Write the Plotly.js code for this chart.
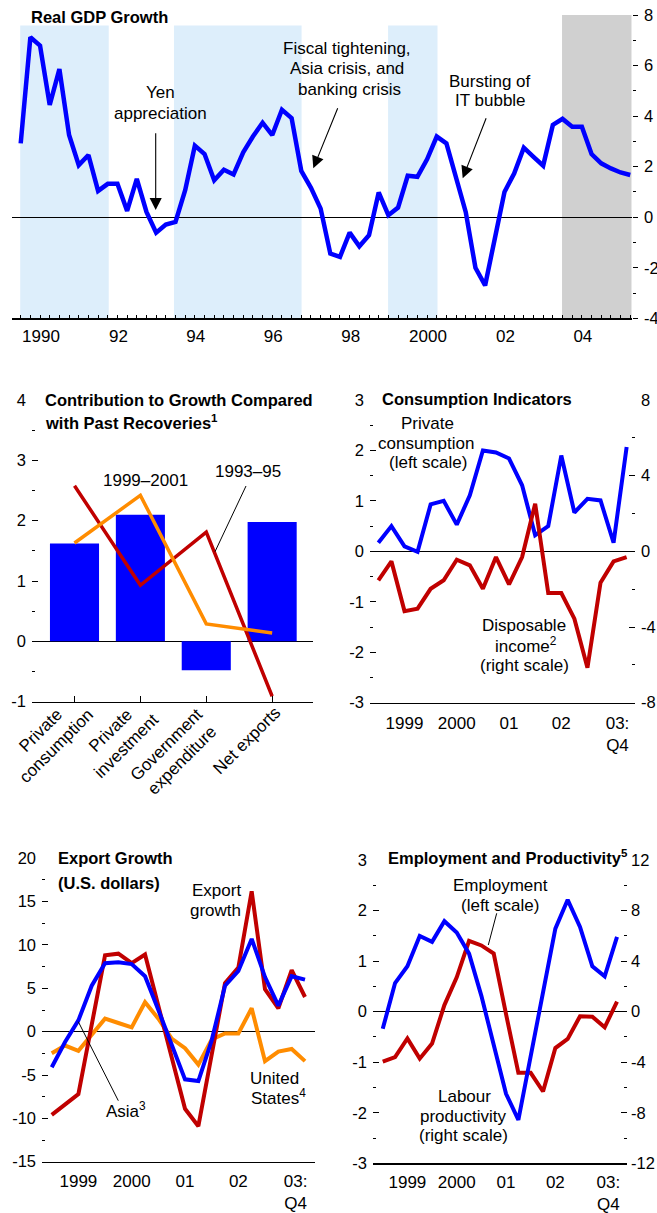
<!DOCTYPE html>
<html><head><meta charset="utf-8">
<script src="https://cdn.plot.ly/plotly-3.0.1.min.js"></script>
<style>html,body{margin:0;padding:0;background:#fff}#chart{width:657px;height:1213px}</style>
</head><body><div id="chart"></div>
<script>
// ---------------- DATA ----------------
// Real GDP growth, quarterly, 1990Q1 - 2005Q4 (index 0 = first quarter)
const gdpGrowth = [2.92,7.12,6.79,4.44,5.86,3.25,2.06,2.46,1.04,1.32,
  1.32,0.25,1.52,0.21,-0.61,-0.29,-0.19,1.07,2.83,2.5,
  1.46,1.88,1.69,2.57,3.19,3.74,3.25,4.25,3.92,1.83,
  1.16,0.34,-1.44,-1.57,-0.61,-1.15,-0.71,0.98,0.08,0.38,
  1.64,1.6,2.29,3.19,2.92,1.53,0.2,-2.0,-2.7,-0.85,
  1.0,1.73,2.75,2.39,2.04,3.65,3.89,3.58,3.58,2.5,
  2.13,1.93,1.77,1.67];
const gdpYearLabels = ['1990','92','94','96','98','2000','02','04'];
const gdpYearTickQuarters = [0,4,8,12,16,20,24,28,32,36,40,44,48,52,56,60];
const recoveryPeriods = [[-0.05,9.1],[15.84,29.03],[37.97,43.08]];   // quarter index
const projectionPeriod = [55.95,63.15];
const recoveryShadeTop = 7.58;

// Contribution to growth compared with past recoveries
const contribCategories = ['Private<br>consumption','Private<br>investment','Government<br>expenditure','Net exports'];
const currentRecovery = [1.62,2.10,-0.48,1.98];
const recovery1999_2001 = [1.63,2.42,0.29,0.14];
const recovery1993_95 = [2.58,0.93,1.81,-0.91];

// Quarterly panels 1999Q1 - 2003Q4
const qLabels = ['1999','2000','01','02','03:<br>Q4'];
const qYearTicks = [0,4,8,12,16];
const privateConsumption = [0.17,0.5,0.1,-0.01,0.93,1.0,0.53,1.11,2.0,1.96,1.84,1.31,0.32,0.5,1.9,0.77,1.04,1.01,0.17,2.07];
const disposableIncome = [-1.53,-0.53,-3.16,-3.03,-1.98,-1.53,-0.44,-0.74,-1.98,-0.3,-1.75,-0.3,2.52,-2.2,-2.2,-3.56,-6.15,-1.66,-0.53,-0.3];

const exportGrowth = [-9.6,-8.4,-7.2,0.8,8.8,9.0,7.9,8.9,3.0,-3.0,-8.9,-10.9,-2.7,5.6,7.4,16.2,4.9,2.7,7.1,4.0];
const asiaExports = [-4.1,-1.2,1.3,5.3,7.9,8.0,7.8,6.4,2.5,-1.5,-5.5,-5.7,-1.0,5.3,7.0,10.7,6.3,3.0,6.4,6.0];
const usExports = [-2.5,-1.6,-2.2,-0.3,1.5,1.0,0.5,3.4,1.5,-0.8,-1.9,-3.8,-0.9,-0.2,-0.2,2.7,-3.4,-2.3,-2.0,-3.4];

const employment = [-0.99,-0.9,-0.53,-0.93,-0.63,0.13,0.68,1.4,1.31,1.15,-0.05,-1.21,-1.21,-1.58,-0.72,-0.54,-0.09,-0.1,-0.31,0.2];
const labourProductivity = [-1.36,2.26,3.59,5.99,5.52,7.16,6.26,4.59,1.25,-2.68,-6.5,-8.56,-3.6,1.41,6.57,8.85,6.7,3.59,2.79,5.91];

// ---------------- HELPERS ----------------
const W=657, H=1213;
const px = v => v/W, py = v => 1 - v/H;
const FONT = '"Liberation Sans",Arial,Helvetica,sans-serif';
const FS_TICKX = 17, FS_TICKY = 16.5, FS_NOTE = 17, FS_TITLE = 16.5;
const BLUE='#0000FF', RED='#C00000', ORANGE='#FF8C00';
const idx = a => a.map((_, i) => i);
const range = (a, b, s) => { const r=[]; for (let v=a; v<=b+1e-9; v+=s) r.push(+v.toFixed(4)); return r; };
const txt = v => String(v);
const qLabelPos = [2, 6, 10, 14, 18.3];

function yAx(o){
  return Object.assign({showgrid:false, showline:false, zeroline:false, ticks:'inside', ticklen:6,
    tickwidth:1, tickcolor:'#000', tickfont:{family:FONT,size:FS_TICKY,color:'#000'}, fixedrange:true}, o);
}
function xLab(o){
  return Object.assign({showgrid:false, zeroline:false, showline:true, linecolor:'#000', linewidth:1.5,
    ticks:'', tickfont:{family:FONT,size:FS_TICKX,color:'#000'}, fixedrange:true, tickmode:'array'}, o);
}
function xTick(o){
  return Object.assign({showgrid:false, zeroline:false, showline:false, showticklabels:false,
    ticks:'inside', ticklen:6, tickwidth:1, tickcolor:'#000', tickmode:'array', fixedrange:true}, o);
}
function line(x, y, xa, ya, color, w){
  return {type:'scatter', mode:'lines', x:x, y:y, xaxis:xa, yaxis:ya,
    line:{color:color, width:w}, hoverinfo:'skip'};
}

// ---------------- TRACES ----------------
const traces = [];
traces.push(line(idx(gdpGrowth), gdpGrowth, 'x', 'y', BLUE, 4.5));

traces.push({type:'bar', x:idx(currentRecovery), y:currentRecovery, xaxis:'x3', yaxis:'y3',
  width:0.745, marker:{color:BLUE, line:{width:0}}, hoverinfo:'skip'});
traces.push(line(idx(recovery1993_95), recovery1993_95, 'x3', 'y3', RED, 3.5));
traces.push(line(idx(recovery1999_2001), recovery1999_2001, 'x3', 'y3', ORANGE, 3.5));

traces.push(line(idx(privateConsumption), privateConsumption, 'x4', 'y5', BLUE, 4));
traces.push(line(idx(disposableIncome), disposableIncome, 'x4', 'y6', RED, 4));

traces.push(line(idx(usExports), usExports, 'x6', 'y7', ORANGE, 4));
traces.push(line(idx(exportGrowth), exportGrowth, 'x6', 'y7', RED, 4));
traces.push(line(idx(asiaExports), asiaExports, 'x6', 'y7', BLUE, 4));

traces.push(line(idx(employment), employment, 'x8', 'y9', RED, 4));
traces.push(line(idx(labourProductivity), labourProductivity, 'x8', 'y10', BLUE, 4));

// ---------------- LAYOUT ----------------
const gdpRange = [-0.93, 63.15];
const gdpLabelPos = gdpYearLabels.map((_, k) => 2.1 + 8*k);
const r3 = [-0.64, 19.64], r4 = [-0.73, 19.75], r5 = [-0.79, 19.81];
const minorIn = d => ({tickmode:'linear', tick0:0, dtick:d, ticks:'inside', ticklen:3, tickwidth:1, tickcolor:'#000'});

const layout = {
  width:W, height:H, margin:{l:0,r:0,t:0,b:0}, showlegend:false,
  paper_bgcolor:'#fff', plot_bgcolor:'rgba(0,0,0,0)',
  font:{family:FONT, size:FS_NOTE, color:'#000'},
  // Panel 1 : Real GDP growth
  xaxis: xLab({domain:[px(11.7),px(631.7)], range:gdpRange, anchor:'y', tickvals:gdpLabelPos, ticktext:gdpYearLabels,
    ticklabelstandoff:2, minor:minorIn(1)}),
  xaxis2: xTick({overlaying:'x', anchor:'y', range:gdpRange, tickvals:gdpYearTickQuarters}),
  yaxis: yAx({domain:[py(318.3),py(15)], range:[-4,8], side:'right', anchor:'x', ticks:'outside', ticklen:5,
    tickmode:'array', tickvals:range(-4,8,2), ticktext:range(-4,8,2).map(txt), ticklabelstandoff:3,
    minor:{tickmode:'linear', tick0:0, dtick:1, ticks:'outside', ticklen:3, tickcolor:'#000'},
    zeroline:true, zerolinecolor:'#000', zerolinewidth:1}),
  yaxis2: yAx({overlaying:'y', side:'left', anchor:'x', range:[-4,8], ticklen:5, tickmode:'array',
    tickvals:range(-4,8,1), showticklabels:false}),
  // Panel 2 : contributions
  xaxis3: xLab({domain:[px(32),px(313)], range:[-0.645,3.62], anchor:'y3', tickvals:idx(contribCategories),
    showticklabels:false, ticks:'inside', ticklen:6, tickwidth:1, tickcolor:'#000'}),
  yaxis3: yAx({domain:[py(701.7),py(400)], range:[-1,4], anchor:'x3', side:'left', tickmode:'array',
    tickvals:range(-1,4,1), ticktext:range(-1,4,1).map(txt), ticklabelstandoff:5, minor:minorIn(0.5),
    zeroline:true, zerolinecolor:'#000', zerolinewidth:1}),
  yaxis4: yAx({overlaying:'y3', side:'right', anchor:'x3', range:[-1,4], tickmode:'array', tickvals:range(-1,4,1),
    showticklabels:false, minor:minorIn(0.5)}),
  // Panel 3 : consumption indicators
  xaxis4: xLab({domain:[px(370),px(635)], range:r3, anchor:'y5', tickvals:qLabelPos, ticktext:qLabels, ticklabelstandoff:4}),
  xaxis5: xTick({overlaying:'x4', anchor:'y5', range:r3, tickvals:qYearTicks}),
  yaxis5: yAx({domain:[py(702.7),py(400)], range:[-3,3], anchor:'x4', side:'left', tickmode:'array',
    tickvals:range(-3,3,1), ticktext:range(-3,3,1).map(txt), ticklabelstandoff:5, minor:minorIn(0.5),
    zeroline:true, zerolinecolor:'#000', zerolinewidth:1}),
  yaxis6: yAx({overlaying:'y5', side:'right', anchor:'x4', range:[-8,8], tickmode:'array',
    tickvals:range(-8,8,4), ticktext:range(-8,8,4).map(txt), ticklabelstandoff:5, minor:minorIn(2)}),
  // Panel 4 : export growth
  xaxis6: xLab({domain:[px(42),px(315)], range:r4, anchor:'y7', tickvals:qLabelPos, ticktext:qLabels, ticklabelstandoff:3}),
  xaxis7: xTick({overlaying:'x6', anchor:'y7', range:r4, tickvals:qYearTicks}),
  yaxis7: yAx({domain:[py(1161.7),py(858.3)], range:[-15,20], anchor:'x6', side:'left', tickmode:'array',
    tickvals:range(-15,20,5), ticktext:range(-15,20,5).map(txt), ticklabelstandoff:5, minor:minorIn(2.5),
    zeroline:true, zerolinecolor:'#000', zerolinewidth:1}),
  yaxis8: yAx({overlaying:'y7', side:'right', anchor:'x6', range:[-15,20], tickmode:'array', tickvals:range(-15,20,5),
    showticklabels:false, minor:minorIn(2.5)}),
  // Panel 5 : employment and productivity
  xaxis8: xLab({domain:[px(373),px(627)], range:r5, anchor:'y9', tickvals:qLabelPos, ticktext:qLabels, ticklabelstandoff:3}),
  xaxis9: xTick({overlaying:'x8', anchor:'y9', range:r5, tickvals:qYearTicks}),
  yaxis9: yAx({domain:[py(1163.3),py(860)], range:[-3,3], anchor:'x8', side:'left', tickmode:'array',
    tickvals:range(-3,3,1), ticktext:range(-3,3,1).map(txt), ticklabelstandoff:5, minor:minorIn(0.5),
    zeroline:true, zerolinecolor:'#000', zerolinewidth:1}),
  yaxis10: yAx({overlaying:'y9', side:'right', anchor:'x8', range:[-12,12], tickmode:'array',
    tickvals:range(-12,12,4), ticktext:range(-12,12,4).map(txt), ticklabelstandoff:3, minor:minorIn(2)}),
  shapes: [], annotations: []
};

// shading in panel 1
recoveryPeriods.forEach(p => layout.shapes.push({type:'rect', xref:'x', yref:'y', x0:p[0], x1:p[1], y0:-4, y1:recoveryShadeTop,
  fillcolor:'#DDEEFB', line:{width:0}, layer:'below'}));
layout.shapes.push({type:'rect', xref:'x', yref:'y', x0:projectionPeriod[0], x1:projectionPeriod[1], y0:-4, y1:8,
  fillcolor:'#D0D0D0', line:{width:0}, layer:'below'});

// leader lines (pixel positions of the figure)
function leader(x0,y0,x1,y1){ layout.shapes.push({type:'line', xref:'paper', yref:'paper', x0:px(x0), y0:py(y0), x1:px(x1), y1:py(y1), line:{color:'#000', width:1}}); }
leader(246,486,215,551.7);
leader(118.3,1100.7,78.3,1021.7);
leader(496.7,913.3,488.3,945);

function note(x, y, text, o){
  layout.annotations.push(Object.assign({xref:'paper', yref:'paper', x:px(x), y:py(y), text:text, showarrow:false,
    xanchor:'center', yanchor:'middle', font:{family:FONT, size:FS_NOTE, color:'#000'}}, o||{}));
}
function title(x, y, text){ note(x, y, '<b>'+text+'</b>', {xanchor:'left', font:{family:FONT, size:FS_TITLE, color:'#000'}}); }
function arrow(tx, ty, sx, sy){
  layout.annotations.push({xref:'paper', yref:'paper', x:px(tx), y:py(ty), ax:sx-tx, ay:sy-ty, text:'',
    showarrow:true, arrowhead:2, arrowsize:2.2, arrowwidth:1.1, arrowcolor:'#000', standoff:0, startstandoff:0});
}

// Panel 1 texts
title(29, 16.7, 'Real GDP Growth');
note(160, 93, 'Yen'); note(160, 113, 'appreciation');
arrow(155.7, 210, 155.7, 131.7);
note(347, 48, 'Fiscal tightening,'); note(347, 69, 'Asia crisis, and'); note(349, 89, 'banking crisis');
arrow(313.3, 168.3, 338.3, 106.7);
note(490, 81, 'Bursting of'); note(490, 101, 'IT bubble');
arrow(462.7, 178.3, 486.7, 116.7);

// Panel 2 texts
title(43, 400, 'Contribution to Growth Compared');
title(43, 421.7, 'with Past Recoveries<sup>1</sup>');
note(145, 480.5, '1999–2001');
note(248.3, 472, '1993–95');
// rotated category labels
const catLabelCenters = [[48,738],[118,738],[174,752],[246.7,740]];
contribCategories.forEach((c, i) => note(catLabelCenters[i][0], catLabelCenters[i][1], c, {textangle:-45}));

// Panel 3 texts
title(380, 399.3, 'Consumption Indicators');
note(427.5, 423.5, 'Private'); note(425.5, 443, 'consumption'); note(428, 462, '(left scale)');
note(524, 625.5, 'Disposable'); note(526, 645, 'income<sup>2</sup>'); note(524.5, 665, '(right scale)');

// Panel 4 texts
title(55.5, 858, 'Export Growth');
title(55.5, 883.3, '(U.S. dollars)');
note(216.3, 890, 'Export'); note(215.3, 910, 'growth');
note(126, 1110, 'Asia<sup>3</sup>');
note(274, 1078, 'United'); note(278.7, 1096.7, 'States<sup>4</sup>');

// Panel 5 texts
title(385.5, 856.7, 'Employment and Productivity<sup>5</sup>');
note(500.5, 885, 'Employment'); note(500.3, 905, '(left scale)');
note(464.3, 1096.3, 'Labour'); note(463.3, 1116.3, 'productivity'); note(463.3, 1135, '(right scale)');

Plotly.newPlot('chart', traces, layout, {staticPlot:true, displayModeBar:false});
</script>
</body></html>
